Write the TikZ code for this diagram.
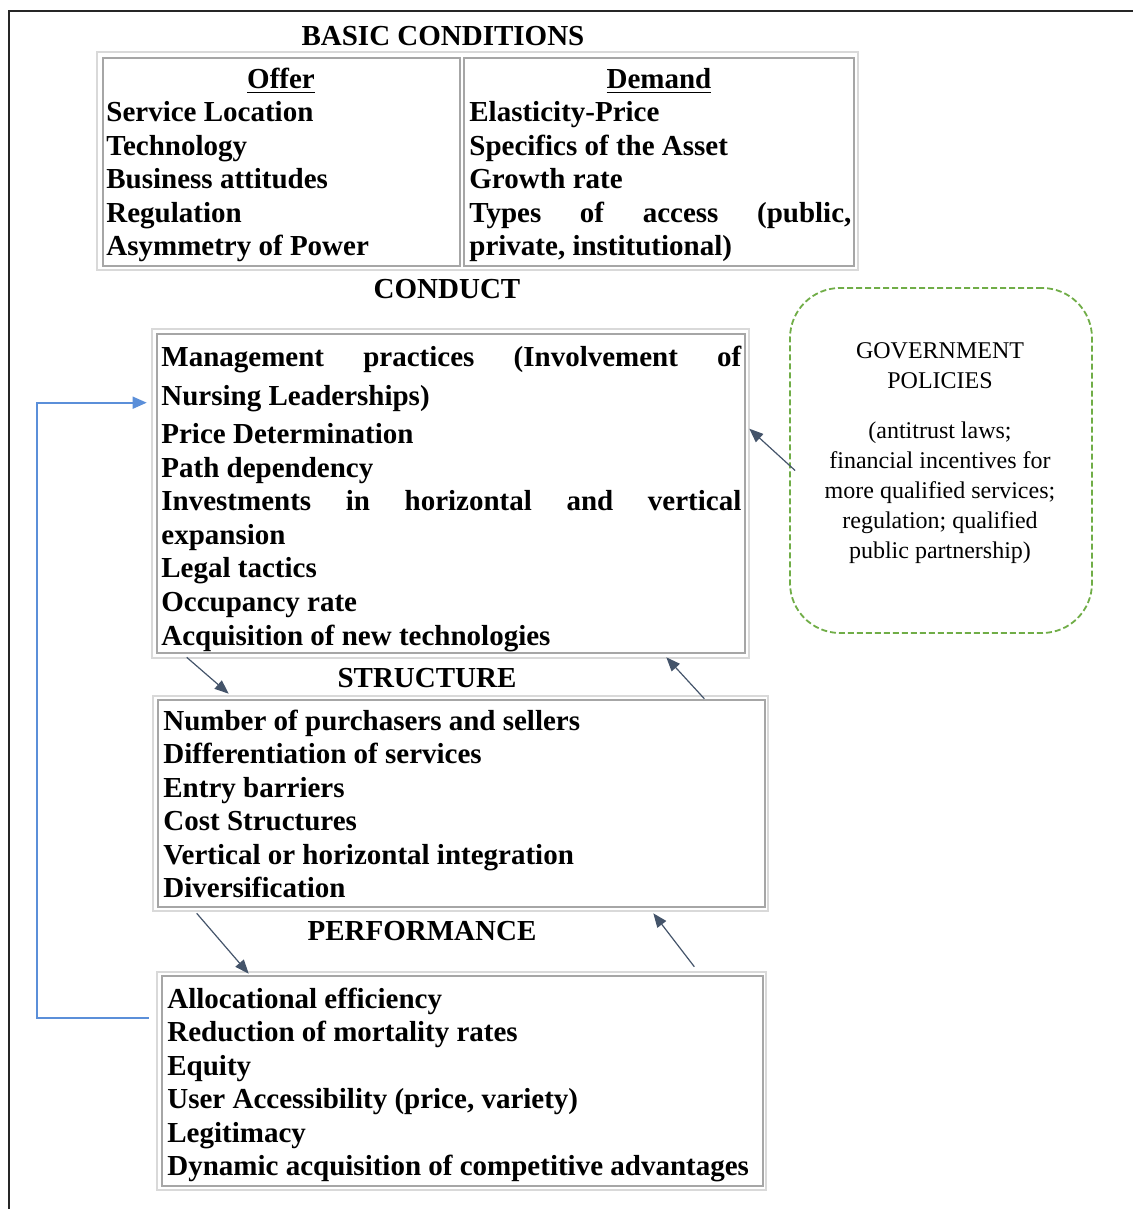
\documentclass[tikz,border=0pt]{standalone}
\usepackage{fontspec}
\setmainfont{Liberation Serif}
\usetikzlibrary{arrows.meta,fit,calc}
\definecolor{arrowgray}{HTML}{44546A}
\definecolor{fbblue}{HTML}{5B8FD9}
\definecolor{govgreen}{HTML}{70AD47}
\begin{document}
\begin{tikzpicture}[x=0.5pt, y=-0.5pt,
  outbox/.style={draw=gray!30, line width=1.3pt, inner sep=0pt},
  inbox/.style={draw=gray!70, line width=0.8pt, inner sep=0pt},
  item/.style={anchor=base west, inner sep=0pt, font=\fontsize{14.5}{16.7}\selectfont\bfseries},
  heading/.style={anchor=base, inner sep=0pt, font=\fontsize{14.5}{16.7}\selectfont\bfseries},
  govbox/.style={draw=govgreen, line width=0.9pt, dash pattern=on 3pt off 1.5pt, rounded corners=25pt, inner sep=0pt},
  govtext/.style={align=center, inner sep=0pt, font=\fontsize{12}{15}\selectfont},
  arr/.style={draw=arrowgray, line width=0.6pt, -{Triangle[length=7pt,width=5.5pt]}},
  fbarr/.style={draw=fbblue, line width=0.8pt, -{Triangle[length=7pt,width=6pt]}}]
\useasboundingbox (0,0) rectangle (1133,1209);
\draw[line width=1.3pt, black!85] (9,1209) -- (9,11) -- (1133,11);

% basic conditions
\node[heading] (basic) at (443,46) {BASIC CONDITIONS};
\node[outbox, fit={(97,52) (858,270)}] (basicout) {};
\node[inbox, fit={(103,58) (460,266)}] (offer) {};
\node[inbox, fit={(464,58) (854,266)}] (demand) {};
\node[heading] (offert) at (281,89) {\underline{Offer}};
\node[item] (off1) at (106,122) {Service Location};
\node[item] (off2) at (106,156) {Technology};
\node[item] (off3) at (106,189) {Business attitudes};
\node[item] (off4) at (106,223) {Regulation};
\node[item] (off5) at (106,256) {Asymmetry of Power};
\node[heading] (demt) at (659,89) {\underline{Demand}};
\node[item] (dem1) at (469,122) {Elasticity-Price};
\node[item] (dem2) at (469,156) {Specifics of the Asset};
\node[item] (dem3) at (469,189) {Growth rate};
\node[item] (dem4) at (469,223) {\makebox[191pt][s]{Types of access (public,}};
\node[item] (dem5) at (469,256) {private, institutional)};

% conduct
\node[heading] (conductt) at (447,299) {CONDUCT};
\node[outbox, fit={(152,329) (749,658)}] (conductout) {};
\node[inbox, fit={(157,334) (745,653)}] (conduct) {};
\node[item] (con1) at (161,366) {\makebox[290pt][s]{Management practices (Involvement of}};
\node[item] (con2) at (161,405) {Nursing Leaderships)};
\node[item] (con3) at (161,443) {Price Determination};
\node[item] (con4) at (161,477) {Path dependency};
\node[item] (con5) at (161,510) {\makebox[290pt][s]{Investments in horizontal and vertical}};
\node[item] (con6) at (161,544) {expansion};
\node[item] (con7) at (161,577) {Legal tactics};
\node[item] (con8) at (161,611) {Occupancy rate};
\node[item] (con9) at (161,645) {Acquisition of new technologies};

% structure
\node[heading] (structt) at (427,687) {STRUCTURE};
\node[outbox, fit={(153,696) (768,911)}] (structout) {};
\node[inbox, fit={(158,700) (765,907)}] (struct) {};
\node[item] (str1) at (163,730) {Number of purchasers and sellers};
\node[item] (str2) at (163,763) {Differentiation of services};
\node[item] (str3) at (163,797) {Entry barriers};
\node[item] (str4) at (163,830) {Cost Structures};
\node[item] (str5) at (163,864) {Vertical or horizontal integration};
\node[item] (str6) at (163,897) {Diversification};

% performance
\node[heading] (perft) at (422,940) {PERFORMANCE};
\node[outbox, fit={(157,972) (766,1190)}] (perfout) {};
\node[inbox, fit={(162,976) (763,1186)}] (perf) {};
\node[item] (per1) at (167,1008) {Allocational efficiency};
\node[item] (per2) at (167,1041) {Reduction of mortality rates};
\node[item] (per3) at (167,1075) {Equity};
\node[item] (per4) at (167,1108) {User Accessibility (price, variety)};
\node[item] (per5) at (167,1142) {Legitimacy};
\node[item] (per6) at (167,1175) {Dynamic acquisition of competitive advantages};

% government policies
\node[govbox, fit={(790,288) (1092,633)}] (gov) {};
\node[govtext] (govt) at (940,453) {GOVERNMENT\\POLICIES\\[10pt](antitrust laws;\\financial incentives for\\more qualified services;\\regulation; qualified\\public partnership)};

% arrows
\draw[arr] ($(gov.west)+(6,10)$) -- ($(conductout.north east)+(-1,101)$);
\draw[arr] ($(conductout.south west)+(36,-2)$) -- ($(structout.north west)+(77,-1)$);
\draw[arr] ($(structout.north east)+(-65,4)$) -- ($(conductout.south east)+(-84,-2)$);
\draw[arr] ($(structout.south west)+(45,1)$) -- ($(perfout.north west)+(93,3)$);
\draw[arr] ($(perfout.north east)+(-73,-4)$) -- ($(structout.south east)+(-116,1)$);
\draw[fbarr] ($(perfout.north west)+(-7,47)$) -| ($(conductout.north west)+(-114,75)$) -- ($(conductout.north west)+(-4,75)$);

\end{tikzpicture}
\end{document}
